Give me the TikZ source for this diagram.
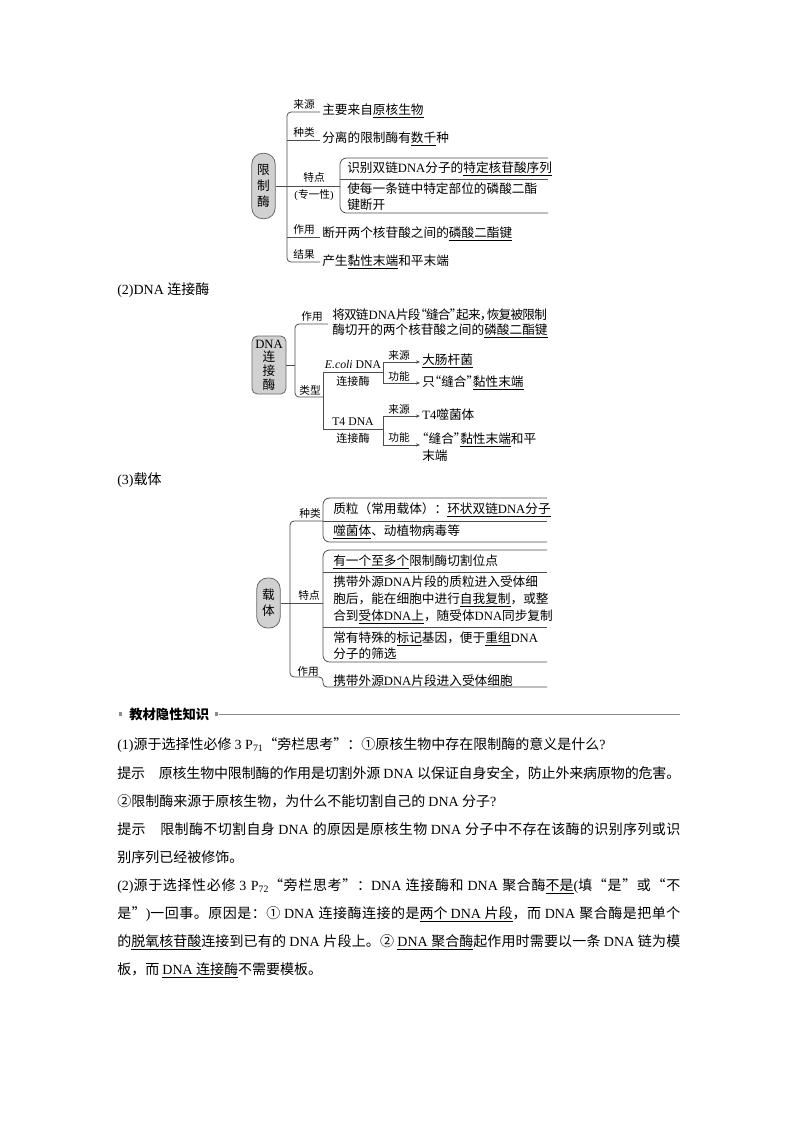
\documentclass[tikz,border=0pt]{standalone}
\usepackage{fontspec}
\setmainfont{Liberation Serif}
\newfontfamily\cjkfont{Noto Sans CJK SC}
\usetikzlibrary{arrows.meta}

% CJK runs get the CJK font
\newXeTeXintercharclass\cjkclass
\newcount\cjkcnt
\newcommand\setcjk[2]{\cjkcnt=#1\relax
  \loop\XeTeXcharclass\cjkcnt=\cjkclass
  \ifnum\cjkcnt<#2\relax\advance\cjkcnt by 1\repeat}
\setcjk{"4E00}{"9FFF}
\setcjk{"3000}{"303F}
\setcjk{"FF00}{"FFEF}
\setcjk{"2460}{"2473}
\setcjk{"201C}{"201D}
\XeTeXinterchartokenstate=1
\XeTeXinterchartoks 0 \cjkclass = {\cjkfont}
\XeTeXinterchartoks 4095 \cjkclass = {\cjkfont}
\XeTeXinterchartoks \cjkclass 0 = {\rmfamily}
\XeTeXinterchartoks 4095 0 = {\rmfamily}
\XeTeXinterchartoks \cjkclass \cjkclass = {\hskip 0pt plus 1pt minus 1.5pt\relax}

\newbox\ulbox
\newcommand\uln[1]{\setbox\ulbox\hbox{#1}\rlap{\rule[-0.25em]{\wd\ulbox}{0.4pt}}\box\ulbox}
\newcommand\fullline[1]{\hbox to 422.25pt{#1}}
% half-width quotes and comma in the diagrams
\newcommand\oqt{\kern-0.5em“}
\newcommand\cqt{”\kern-0.5em}
\newcommand\hcm{，\kern-0.45em}

\tikzset{
    every node/.style={inner sep=0pt},
    tree/.style={draw=black!70, line width=0.6pt, rounded corners=3pt},
    pill/.style={draw=black!60, fill=black!18, line width=0.6pt, align=center,
        font=\fontsize{9.5}{12}\selectfont},
    txt/.style={anchor=west, align=left, font=\fontsize{9.5}{12}\selectfont},
    lab/.style={font=\fontsize{8}{10}\selectfont},
    body/.style={anchor=west, font=\fontsize{10.5}{14}\selectfont},
    sq/.style={fill=black!45, minimum size=2.6pt},
    >={Stealth[length=3pt,width=2.4pt]}
}

\begin{document}
\begin{tikzpicture}[x=0.75pt,y=-0.75pt]
\useasboundingbox (0,0) rectangle (800,1132);

% (1) restriction enzyme
\node[pill, rounded corners=8pt, minimum width=17.5pt, minimum height=49pt] (a0) at (263.5,186) {限\\制\\酶};
\coordinate (p1) at (287,112); \coordinate (q1) at (320,112);
\coordinate (p2) at (287,140); \coordinate (q2) at (320,140);
\coordinate (q3) at (340,186);
\coordinate (p4) at (287,237); \coordinate (q4) at (320,237);
\coordinate (p5) at (287,262); \coordinate (q5) at (320,262);
\coordinate (r1) at (548,158); \coordinate (r2) at (340,158);
\coordinate (r3) at (340,213); \coordinate (r4) at (548,213);
\coordinate (r5) at (340,179); \coordinate (r6) at (548,179);

\node[lab] (a1) at (304,104) {来源};
\node[lab] (a2) at (304,132) {种类};
\node[lab] (a3) at (314,177) {特点};
\node[lab] (a4) at (314,195) {(专一性)};
\node[lab] (a5) at (304,229) {作用};
\node[lab] (a6) at (304,254) {结果};

\node[txt] (a7) at (322,111) {主要来自\uln{原核生物}};
\node[txt] (a8) at (322,139) {分离的限制酶有\uln{数千}种};
\node[txt] (a9) at (347,169) {识别双链DNA分子的\uln{特定核苷酸序列}};
\node[txt] (a10) at (347,197) {使每一条链中特定部位的磷酸二酯\\键断开};
\node[txt] (a11) at (322,234) {断开两个核苷酸之间的\uln{磷酸二酯键}};
\node[txt] (a12) at (322,262) {产生\uln{黏性末端}和平末端};

\draw[tree] (q1) -- (p1) -- (p5) -- (q5);
\draw[tree] (p2) -- (q2) (p4) -- (q4);
\draw[tree] (a0) -- (q3);
\draw[tree, rounded corners=5pt] (r1) -- (r2) -- (r3) -- (r4);
\draw[tree] (r5) -- (r6);

% (2) DNA ligase
\node[body] (b0) at (117,290) {(2)DNA 连接酶};
\node[pill, rounded corners=4pt, minimum width=25.5pt, minimum height=43.5pt,
    font=\fontsize{9.5}{10.3}\selectfont] (b1) at (269,365) {DNA\\连\\接\\酶};
\coordinate (s0) at (295,365);
\coordinate (s1) at (328,324); \coordinate (s2) at (295,324);
\coordinate (s3) at (295,397); \coordinate (s4) at (323,397);
\coordinate (s5) at (323,372); \coordinate (s6) at (323,429);
\coordinate (s7) at (383,372); \coordinate (s8) at (383,429);
\coordinate (u1) at (383,362); \coordinate (u2) at (383,383);
\coordinate (u3) at (420,362); \coordinate (u4) at (420,383);
\coordinate (w1) at (383,416); \coordinate (w2) at (383,445);
\coordinate (w3) at (420,416); \coordinate (w4) at (420,445);

\node[lab] (b2) at (312,316) {作用};
\node[lab] (b3) at (310,390) {类型};
\node[lab, font=\fontsize{8.8}{10}\selectfont] (b4) at (353,365) {\textit{E.coli} DNA};
\node[lab, font=\fontsize{8.3}{10}\selectfont] (b5) at (353,381) {连接酶};
\node[lab, font=\fontsize{8.8}{10}\selectfont] (b6) at (353,422) {T4 DNA};
\node[lab, font=\fontsize{8.3}{10}\selectfont] (b7) at (353,438) {连接酶};
\node[lab] (b8) at (399,355) {来源};
\node[lab] (b9) at (399,376) {功能};
\node[lab] (b10) at (399,409) {来源};
\node[lab] (b11) at (399,437) {功能};

\node[txt, font=\fontsize{9.5}{11.25}\selectfont] (b12) at (332,323)
    {\hbox to 161pt{将双链DNA片段\oqt 缝合\cqt 起来\hcm 恢复被限制}\\酶切开的两个核苷酸之间的\uln{磷酸二酯键}};
\node[txt] (b13) at (422,361) {\uln{大肠杆菌}};
\node[txt] (b14) at (422,383) {只\oqt 缝合\cqt\uln{黏性末端}};
\node[txt] (b15) at (422,415) {T4噬菌体};
\node[txt, font=\fontsize{9.5}{12.75}\selectfont] (b16) at (422,447) {\oqt 缝合\cqt\uln{黏性末端}和平\\末端};

\draw[tree] (b1) -- (s0);
\draw[tree] (s1) -- (s2) -- (s3) -- (s4);
\draw[tree, rounded corners=0pt] (s5) -- (s6) (s5) -- (s7) (s6) -- (s8);
\draw[tree, rounded corners=0pt] (u1) -- (u2) (w1) -- (w2);
\draw[tree, ->] (u1) -- (u3);
\draw[tree, ->] (u2) -- (u4);
\draw[tree, ->] (w1) -- (w3);
\draw[tree, ->] (w2) -- (w4);

% (3) vector
\node[body] (c0) at (117,480) {(3)载体};
\node[pill, rounded corners=8pt, minimum width=17.5pt, minimum height=37.5pt] (c1) at (268.5,603) {载\\体};
\coordinate (m0) at (323,603);
\coordinate (m1) at (323,521); \coordinate (m2) at (290,521);
\coordinate (m3) at (290,677); \coordinate (m4) at (323,677);
\coordinate (m5) at (323,687); \coordinate (m6) at (547,687);
\coordinate (n1) at (547,498); \coordinate (n2) at (323,498);
\coordinate (n3) at (323,542); \coordinate (n4) at (547,542);
\coordinate (n5) at (547,521);
\coordinate (o1) at (547,550); \coordinate (o2) at (323,550);
\coordinate (o3) at (323,662); \coordinate (o4) at (547,662);
\coordinate (o5) at (323,572); \coordinate (o6) at (547,572);
\coordinate (o7) at (323,627); \coordinate (o8) at (547,627);

\node[lab] (c2) at (310,513) {种类};
\node[lab] (c3) at (309,595) {特点};
\node[lab] (c4) at (308,671) {作用};

\node[txt] (c5) at (333,510) {质粒（常用载体）：\uln{环状双链DNA分子}};
\node[txt] (c6) at (333,532) {\uln{噬菌体}、动植物病毒等};
\node[txt] (c7) at (333,562) {\uln{有一个至多个}限制酶切割位点};
\node[txt, font=\fontsize{9.5}{12.75}\selectfont] (c8) at (333,600)
    {携带外源DNA片段的质粒进入受体细\\胞后，能在细胞中进行\uln{自我复制}，或整\\合到\uln{受体DNA上}，随受体DNA同步复制};
\node[txt] (c9) at (333,646) {常有特殊的\uln{标记}基因，便于\uln{重组}DNA\\分子的筛选};
\node[txt] (c10) at (333,681) {携带外源DNA片段进入受体细胞};

\draw[tree] (c1) -- (m0);
\draw[tree] (m1) -- (m2) -- (m3) -- (m4) -- (m5) -- (m6);
\draw[tree, rounded corners=5pt] (n1) -- (n2) -- (n3) -- (n4);
\draw[tree] (m1) -- (n5);
\draw[tree, rounded corners=5pt] (o1) -- (o2) -- (o3) -- (o4);
\draw[tree] (o5) -- (o6) (o7) -- (o8);

% hidden knowledge
\node[sq] (d0) at (120.5,714) {};
\node[anchor=west, font=\bfseries\fontsize{10}{12}\selectfont] (d1) at (129,714) {教材隐性知识};
\node[sq] (d2) at (216.5,714) {};
\coordinate (d3) at (680,714);
\draw[black!45, line width=0.6pt] (d2) -- (d3);

\node[body] (e1) at (117,745) {(1)源于选择性必修 3 P\textsubscript{71}“旁栏思考”：①原核生物中存在限制酶的意义是什么?};
\node[body] (e2) at (117,773) {\fullline{提示　原核生物中限制酶的作用是切割外源 DNA 以保证自身安全，防止外来病原物的危害。}};
\node[body] (e3) at (117,801) {②限制酶来源于原核生物，为什么不能切割自己的 DNA 分子?};
\node[body] (e4) at (117,829) {\fullline{提示　限制酶不切割自身 DNA 的原因是原核生物 DNA 分子中不存在该酶的识别序列或识}};
\node[body] (e5) at (117,857) {别序列已经被修饰。};
\node[body] (e6) at (117,886) {\fullline{(2)源于选择性必修 3 P\textsubscript{72}“旁栏思考”：DNA 连接酶和 DNA 聚合酶\uln{不是}(填“是”或“不}};
\node[body] (e7) at (117,914) {\fullline{是”)一回事。原因是：① DNA 连接酶连接的是\uln{两个 DNA 片段}，而 DNA 聚合酶是把单个}};
\node[body] (e8) at (117,942) {\fullline{的\uln{脱氧核苷酸}连接到已有的 DNA 片段上。② \uln{DNA 聚合酶}起作用时需要以一条 DNA 链为模}};
\node[body] (e9) at (117,970) {板，而 \uln{DNA 连接酶}不需要模板。};
\end{tikzpicture}
\end{document}
